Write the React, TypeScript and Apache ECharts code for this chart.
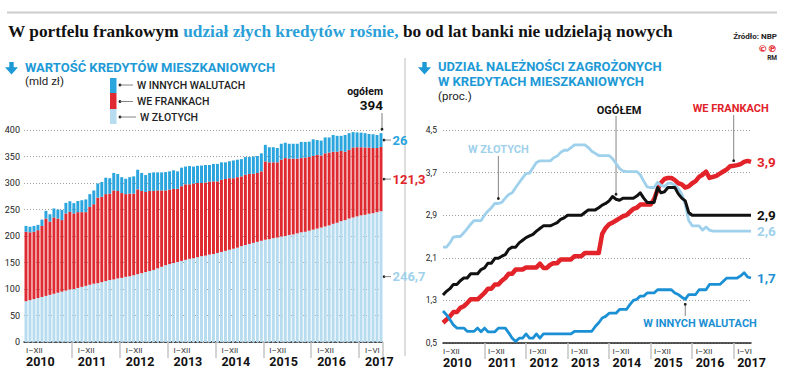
import React, { useEffect, useRef } from 'react';
import * as echarts from 'echarts';

const years = ['2010', '2011', '2012', '2013', '2014', '2015', '2016', '2017'];
const yearRanges = ['I–XII', 'I–XII', 'I–XII', 'I–XII', 'I–XII', 'I–XII', 'I–XII', 'I–VI'];
const monthsInYear = [12, 12, 12, 12, 12, 12, 12, 6];

// Left chart: housing loans, bln PLN (stacked)
const wZlotychMld = [
  77, 79, 81, 83, 85, 87, 89, 91, 93, 95, 97, 99,
  100, 102, 104, 106, 108, 110, 111, 113, 115, 117, 118, 120,
  121, 123, 124, 126, 128, 130, 132, 134, 136, 139, 142, 145,
  147, 149, 151, 153, 155, 157, 158, 160, 162, 163, 165, 166,
  168, 170, 172, 174, 176, 178, 181, 183, 185, 187, 189, 191,
  193, 194, 196, 197, 199, 200, 202, 203, 205, 207, 208, 210,
  212, 214, 216, 218, 220, 223, 225, 228, 230, 233, 235, 237,
  239, 240, 242, 243, 245, 246.7,
];
const weFrankachMld = [
  131, 128, 127, 128, 134, 146, 138, 144, 140, 135, 145.5, 146.6,
  142.5, 143, 141, 139, 147, 150, 161.5, 161, 164, 163, 168, 165,
  160, 156, 156, 154, 160, 155, 151, 151, 149, 147, 144, 141,
  140.5, 140, 138, 141, 142.5, 140.5, 141, 140, 138, 138, 137.5, 137,
  135, 136, 135.5, 135, 133, 133, 131.5, 132.6, 132, 130.5, 130, 131,
  147.6, 145, 143, 142, 145, 147, 144, 143, 141, 140, 140, 139,
  139, 139, 136, 138, 137.5, 136, 134, 132.6, 129, 129.5, 132, 130.5,
  128.5, 127, 125, 123, 121, 121.3,
];
const wInnychMld = [
  11, 10.5, 11, 10, 12, 14.5, 14, 17, 17, 19, 20, 20,
  19.5, 21, 22.5, 24, 24, 26, 26.5, 28, 31, 29, 33, 32,
  30, 29, 31, 32.5, 37, 34, 32, 34, 35, 34, 34, 34.6,
  34.5, 35, 33, 35, 33.5, 34.5, 32, 32.5, 33, 33, 31.5, 33,
  33, 33, 31.5, 32, 33.5, 33, 32.5, 33.4, 32, 32.5, 32, 34,
  31.4, 28.5, 28.5, 27, 30, 29, 28, 28, 28, 30.5, 29.5, 29,
  31.5, 28, 28, 30, 28.5, 31.6, 30, 28.4, 31.6, 31.5, 29, 28,
  27.5, 27, 25.5, 26, 24.6, 26,
];
const ogolemMld = 394;

// Right chart: share of impaired loans, %
const ogolemProc = [
  1.40, 1.47, 1.52, 1.60, 1.60, 1.67, 1.72, 1.72, 1.80, 1.80, 1.80, 1.88,
  1.91, 2.00, 2.00, 2.09, 2.09, 2.13, 2.16, 2.26, 2.30, 2.30, 2.38, 2.43,
  2.48, 2.51, 2.54, 2.60, 2.65, 2.70, 2.70, 2.70, 2.73, 2.76, 2.82, 2.85,
  2.90, 2.90, 2.90, 2.90, 2.90, 2.95, 3.00, 3.00, 3.00, 3.04, 3.09, 3.12,
  3.17, 3.25, 3.20, 3.18, 3.22, 3.22, 3.22, 3.22, 3.26, 3.32, 3.22, 3.14,
  3.14, 3.14, 3.42, 3.32, 3.34, 3.42, 3.42, 3.42, 3.30, 3.22, 3.17, 2.95,
  2.9, 2.9, 2.9, 2.9, 2.9, 2.9, 2.9, 2.9, 2.9, 2.9, 2.9, 2.9,
  2.9, 2.9, 2.9, 2.9, 2.9, 2.9,
];
const weFrankachProc = [
  0.88, 0.94, 1.00, 1.08, 1.08, 1.16, 1.19, 1.25, 1.32, 1.32, 1.32, 1.38,
  1.44, 1.52, 1.52, 1.60, 1.60, 1.67, 1.72, 1.80, 1.80, 1.88, 1.88, 1.88,
  1.92, 1.92, 1.92, 1.92, 1.99, 1.91, 1.91, 1.97, 2.00, 2.00, 2.07, 2.07,
  2.07, 2.07, 2.13, 2.13, 2.13, 2.19, 2.19, 2.19, 2.19, 2.19, 2.55, 2.66,
  2.73, 2.76, 2.80, 2.84, 2.88, 2.90, 2.96, 3.02, 3.04, 3.10, 3.10, 3.10,
  3.10, 3.20, 3.38, 3.51, 3.58, 3.60, 3.60, 3.56, 3.50, 3.48, 3.42, 3.44,
  3.50, 3.54, 3.62, 3.66, 3.72, 3.60, 3.62, 3.64, 3.68, 3.72, 3.76, 3.82,
  3.83, 3.84, 3.86, 3.90, 3.92, 3.9,
];
const wZlotychProc = [
  2.30, 2.30, 2.38, 2.49, 2.50, 2.50, 2.57, 2.65, 2.73, 2.80, 2.80, 2.80,
  2.90, 2.98, 3.04, 3.12, 3.12, 3.14, 3.22, 3.29, 3.32, 3.42, 3.51, 3.60,
  3.68, 3.69, 3.79, 3.89, 3.92, 3.92, 3.92, 3.92, 3.98, 4.01, 4.08, 4.12,
  4.12, 4.17, 4.22, 4.22, 4.22, 4.22, 4.17, 4.10, 4.06, 4.02, 4.02, 4.02,
  4.02, 3.96, 3.87, 3.78, 3.73, 3.72, 3.72, 3.72, 3.72, 3.66, 3.54, 3.43,
  3.42, 3.42, 3.52, 3.46, 3.44, 3.50, 3.50, 3.46, 3.40, 3.30, 3.10, 2.80,
  2.70, 2.70, 2.70, 2.62, 2.68, 2.62, 2.60, 2.60, 2.60, 2.60, 2.60, 2.60,
  2.60, 2.60, 2.60, 2.60, 2.60, 2.6,
];
const wInnychProc = [
  1.10, 1.03, 0.94, 0.84, 0.78, 0.78, 0.78, 0.72, 0.72, 0.72, 0.78, 0.71,
  0.78, 0.71, 0.71, 0.71, 0.78, 0.78, 0.78, 0.69, 0.59, 0.53, 0.59, 0.59,
  0.67, 0.59, 0.59, 0.67, 0.59, 0.67, 0.67, 0.67, 0.67, 0.67, 0.67, 0.67,
  0.67, 0.67, 0.72, 0.72, 0.72, 0.72, 0.72, 0.72, 0.81, 0.88, 0.97, 1.00,
  1.06, 1.06, 1.06, 1.13, 1.13, 1.13, 1.22, 1.30, 1.32, 1.38, 1.38, 1.44,
  1.44, 1.44, 1.50, 1.50, 1.50, 1.50, 1.50, 1.44, 1.41, 1.36, 1.32, 1.41,
  1.41, 1.41, 1.50, 1.50, 1.50, 1.60, 1.60, 1.60, 1.60, 1.66, 1.72, 1.72,
  1.72, 1.72, 1.76, 1.82, 1.74, 1.72,
];

const categories: string[] = [];
years.forEach((y, k) => {
  for (let m = 1; m <= monthsInYear[k]; m++) categories.push(`${y}-${m}`);
});

const C = {
  zlBar: '#b7dcf0',
  frBar: '#de2a30',
  inBar: '#2aa5de',
  red: '#e2232a',
  light: '#9fd1ec',
  blue: '#1c90d4',
  head: '#1d9ad6',
  black: '#111111',
};
const FF = 'Roboto, "Noto Sans", sans-serif';
const comma = (v: number) => String(Math.round(v * 10) / 10).replace('.', ',');

const yearLabelFmt = (value: string) => {
  const y = value.split('-')[0];
  const k = years.indexOf(y);
  return `{r|${yearRanges[k]}}\n{y|${y}}`;
};
const yearRich = {
  r: { fontSize: 8, color: '#333', fontFamily: FF, lineHeight: 10 },
  y: { fontSize: 12.5, fontWeight: 'bold', color: '#111', fontFamily: FF, lineHeight: 13 },
};
const showYearLabel = (index: number) => index === 0 || (index > 1 && index % 12 === 1);
const showSep = (index: number) => index > 0 && index % 12 === 0;

const last = categories.length - 1;
const barLabel = (color: string) => ({
  show: true,
  position: 'right',
  distance: 10,
  formatter: (p: any) => comma(p.value),
  color,
  fontFamily: FF,
  fontWeight: 'bold',
  fontSize: 13,
});
const withLastLabel = (arr: number[], color: string) =>
  arr.map((v, i) => (i === last ? { value: v, label: barLabel(color) } : v));

const lineSeries = (name: string, data: number[], color: string, width: number, z: number) => ({
  type: 'line',
  name,
  xAxisIndex: 1,
  yAxisIndex: 1,
  data,
  symbol: 'none',
  z,
  lineStyle: { color, width, join: 'round' },
  endLabel: {
    show: true,
    formatter: (p: any) => comma(p.value),
    color,
    fontFamily: FF,
    fontWeight: 'bold',
    fontSize: 13.5,
    distance: 6,
  },
});

const option: any = {
  animation: false,
  backgroundColor: '#ffffff',
  grid: [
    { left: 24, top: 130, width: 359, height: 212 },
    { left: 443, top: 130, width: 308, height: 213 },
  ],
  xAxis: [
    {
      type: 'category',
      gridIndex: 0,
      data: categories,
      boundaryGap: true,
      axisLine: { show: true, lineStyle: { color: '#222', width: 1.5, type: [3, 2] } },
      axisTick: { show: true, interval: (i: number) => showSep(i), length: 16, lineStyle: { color: '#c4c4c4', width: 1.5 } },
      axisLabel: { interval: (i: number) => showYearLabel(i), formatter: yearLabelFmt, rich: yearRich, align: 'left', margin: 3 },
    },
    {
      type: 'category',
      gridIndex: 1,
      data: categories,
      boundaryGap: false,
      axisLine: { show: true, lineStyle: { color: '#222', width: 1.5 } },
      axisTick: { show: true, interval: (i: number) => showSep(i), length: 16, lineStyle: { color: '#c4c4c4', width: 1.5 } },
      axisLabel: { interval: (i: number) => showYearLabel(i), formatter: yearLabelFmt, rich: yearRich, align: 'left', margin: 3 },
    },
  ],
  yAxis: [
    {
      type: 'value',
      gridIndex: 0,
      min: 0,
      max: 400,
      interval: 50,
      axisLine: { show: false },
      axisTick: { show: false },
      axisLabel: { fontSize: 9, color: '#222', fontFamily: FF, margin: 4 },
      splitLine: { show: true, lineStyle: { color: '#a0a0a0', type: [1, 2], width: 1 } },
    },
    {
      type: 'value',
      gridIndex: 1,
      min: 0.5,
      max: 4.5,
      interval: 0.8,
      axisLine: { show: false },
      axisTick: { show: false },
      axisLabel: { fontSize: 8.5, color: '#222', fontFamily: FF, margin: 6, formatter: (v: number) => v.toFixed(1).replace('.', ',') },
      splitLine: { show: true, lineStyle: { color: '#a0a0a0', type: [1, 2], width: 1 } },
    },
  ],
  series: [
    { type: 'bar', name: 'W złotych', stack: 'k', xAxisIndex: 0, yAxisIndex: 0, barWidth: '74%', itemStyle: { color: C.zlBar }, data: withLastLabel(wZlotychMld, C.light) },
    { type: 'bar', name: 'We frankach', stack: 'k', xAxisIndex: 0, yAxisIndex: 0, barWidth: '74%', itemStyle: { color: C.frBar }, data: withLastLabel(weFrankachMld, C.red) },
    { type: 'bar', name: 'W innych walutach', stack: 'k', xAxisIndex: 0, yAxisIndex: 0, barWidth: '74%', itemStyle: { color: C.inBar }, data: withLastLabel(wInnychMld, C.inBar) },
    lineSeries('We frankach', weFrankachProc, C.red, 4.5, 3),
    lineSeries('W złotych', wZlotychProc, C.light, 2.8, 4),
    lineSeries('W innych walutach', wInnychProc, C.blue, 2.8, 5),
    lineSeries('Ogółem', ogolemProc, C.black, 3, 6),
  ],
};

const txt = (x: number, y: number, text: string, font: string, fill: string, align = 'left') => ({
  type: 'text',
  x,
  y,
  silent: true,
  style: { text, font, fill, align, textAlign: align, verticalAlign: 'middle', textVerticalAlign: 'middle' },
});
const ln = (x1: number, y1: number, x2: number, y2: number, stroke: string, lineWidth = 1) => ({
  type: 'line',
  silent: true,
  shape: { x1, y1, x2, y2 },
  style: { stroke, lineWidth },
});
const dot = (cx: number, cy: number, fill = '#222') => ({ type: 'circle', silent: true, shape: { cx, cy, r: 1.4 }, style: { fill } });
const arrow = (x: number, y: number) => ({
  type: 'polygon',
  silent: true,
  x,
  y,
  shape: { points: [[4.3, 0], [8.7, 0], [8.7, 5.2], [13, 5.2], [6.5, 12.5], [0, 5.2], [4.3, 5.2]] },
  style: { fill: C.head },
});

const staticGraphics: any[] = [
  ln(7, 12.5, 777, 12.5, '#cccccc', 2),
  {
    type: 'text',
    x: 8,
    y: 31,
    silent: true,
    style: {
      text: '{a|W portfelu frankowym }{b|udział złych kredytów rośnie,}{a| bo od lat banki nie udzielają nowych}',
      verticalAlign: 'middle',
      textVerticalAlign: 'middle',
      rich: {
        a: { font: "bold 17.3px 'Liberation Serif', serif", fill: '#111', color: '#111' },
        b: { font: "bold 17.3px 'Liberation Serif', serif", fill: '#2a9fd8', color: '#2a9fd8' },
      },
    },
  },
  txt(777, 36, 'Źródło: NBP', `bold 8px ${FF}`, '#222', 'right'),
  txt(777, 48, '©℗', "bold 9.5px 'DejaVu Sans'", C.red, 'right'),
  txt(777, 58, 'RM', `bold 6.5px ${FF}`, '#222', 'right'),
  ln(405, 58, 405, 356, '#bdbdbd', 1),
  // left header
  arrow(5, 62),
  txt(25, 67, 'WARTOŚĆ KREDYTÓW MIESZKANIOWYCH', `bold 13px ${FF}`, C.head),
  txt(25, 81, '(mld zł)', `11.5px ${FF}`, '#222'),
  // legend
  { type: 'rect', silent: true, shape: { x: 110, y: 78, width: 6.5, height: 15 }, style: { fill: C.inBar } },
  { type: 'rect', silent: true, shape: { x: 110, y: 93, width: 6.5, height: 16 }, style: { fill: C.frBar } },
  { type: 'rect', silent: true, shape: { x: 110, y: 109, width: 6.5, height: 15 }, style: { fill: C.zlBar } },
  dot(120, 85), ln(120, 85, 133, 85, '#666', 0.8),
  dot(120, 101.5), ln(120, 101.5, 133, 101.5, '#666', 0.8),
  dot(120, 117), ln(120, 117, 136, 117, '#666', 0.8),
  txt(137, 85, 'W INNYCH WALUTACH', `500 10.5px ${FF}`, '#222'),
  txt(137, 101.5, 'WE FRANKACH', `500 10.5px ${FF}`, '#222'),
  txt(140, 117, 'W ZŁOTYCH', `500 10.5px ${FF}`, '#222'),
  txt(383, 91, 'ogółem', `bold 10.5px ${FF}`, '#111', 'right'),
  txt(383, 105, comma(ogolemMld), `bold 13.5px ${FF}`, '#111', 'right'),
  // right header
  arrow(418, 62),
  txt(438, 66, 'UDZIAŁ NALEŻNOŚCI ZAGROŻONYCH', `bold 13px ${FF}`, C.head),
  txt(438, 81, 'W KREDYTACH MIESZKANIOWYCH', `bold 13px ${FF}`, C.head),
  txt(438, 96, '(proc.)', `11.5px ${FF}`, '#222'),
];

export default function App() {
  const ref = useRef<HTMLDivElement>(null);
  useEffect(() => {
    const chart = echarts.init(ref.current!, null, { renderer: 'svg' });
    chart.setOption(option);
    const px = (g: number, i: number, v: number) =>
      chart.convertToPixel({ gridIndex: g } as any, [categories[i], v]) as number[];

    const dyn: any[] = [];
    // left: ogółem pointer
    const tot = wZlotychMld[last] + weFrankachMld[last] + wInnychMld[last];
    const pt = px(0, last, tot);
    dyn.push(ln(pt[0] + 1, 113, pt[0] + 1, pt[1] - 4, '#555', 0.8), dot(pt[0] + 1, pt[1] - 4));
    // left: segment connectors
    const bases = [0, wZlotychMld[last], wZlotychMld[last] + weFrankachMld[last]];
    const segs = [wZlotychMld[last], weFrankachMld[last], wInnychMld[last]];
    segs.forEach((s, k) => {
      const p = px(0, last, bases[k] + s / 2);
      dyn.push(dot(p[0] + 3, p[1]), ln(p[0] + 3, p[1], p[0] + 10, p[1], '#666', 0.8));
    });
    // right: line pointers
    const pOg = px(1, 50, ogolemProc[50]);
    dyn.push(txt(pOg[0] + 3, 110, 'OGÓŁEM', `bold 11px ${FF}`, '#111', 'center'));
    dyn.push(ln(pOg[0], 116, pOg[0], pOg[1] - 5, '#666', 0.8), dot(pOg[0], pOg[1] - 5));
    const pFr = px(1, 84, weFrankachProc[84]);
    dyn.push(txt(pFr[0] - 3, 108, 'WE FRANKACH', `bold 11px ${FF}`, C.red, 'center'));
    dyn.push(ln(pFr[0], 115, pFr[0], pFr[1] - 5, '#666', 0.8), dot(pFr[0], pFr[1] - 5));
    const pZl = px(1, 16, wZlotychProc[16]);
    dyn.push(txt(pZl[0], 149, 'W ZŁOTYCH', `bold 11px ${FF}`, C.light, 'center'));
    dyn.push(ln(pZl[0], 156, pZl[0], pZl[1] - 5, '#666', 0.8), dot(pZl[0], pZl[1] - 5));
    const pIn = px(1, 70, wInnychProc[70]);
    dyn.push(txt(pIn[0] - 42, 323, 'W INNYCH WALUTACH', `bold 11px ${FF}`, C.blue, 'left'));
    dyn.push(ln(pIn[0], 316, pIn[0], pIn[1] + 5, '#666', 0.8), dot(pIn[0], pIn[1] + 5));

    chart.setOption({ graphic: [...staticGraphics, ...dyn] });
    return () => chart.dispose();
  }, []);
  return <div ref={ref} style={{ position: 'fixed', left: 0, top: 0, width: 788, height: 375, background: '#fff' }} />;
}
